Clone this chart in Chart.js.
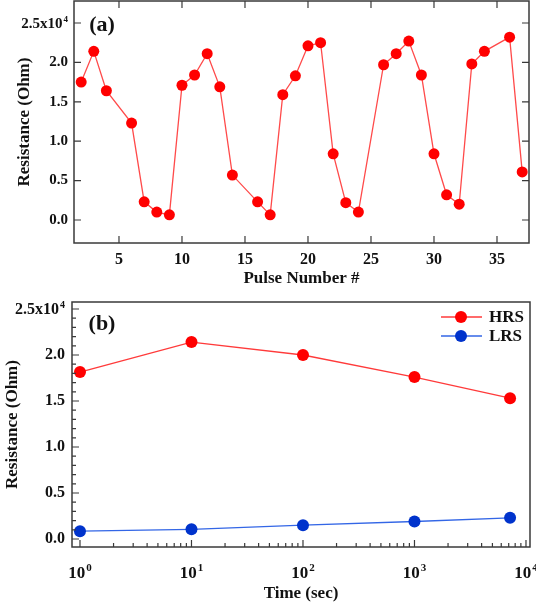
<!DOCTYPE html>
<html>
<head>
<meta charset="utf-8">
<script src="https://cdn.jsdelivr.net/npm/chart.js@4.4.1/dist/chart.umd.min.js"></script>
<style>
  body { margin: 0; background: #fff; }
  #wrap { position: relative; width: 536px; height: 609px; }
  canvas { position: absolute; left: 0; }
  #chartA { top: 0; }
  #chartB { top: 292px; }
</style>
</head>
<body>
<div id="wrap">
  <canvas id="chartA" width="536" height="292"></canvas>
  <canvas id="chartB" width="536" height="317"></canvas>
</div>
<script>
// panel (a): resistance vs pulse number
const pulseNo  = [2, 3, 4, 6, 7, 8, 9, 10, 11, 12, 13, 14, 16, 17, 18, 19, 20, 21, 22, 23, 24, 26, 27, 28, 29, 30, 31, 32, 33, 34, 36, 37];
const pulseRes = [17500, 21400, 16400, 12300, 2300, 1000, 650, 17100, 18400, 21100, 16900, 5700, 2300, 650, 15900, 18300, 22100, 22500, 8400, 2200, 1000, 19700, 21100, 22700, 18400, 8400, 3200, 2000, 19800, 21400, 23200, 6100];

// panel (b): retention
const timeSec = [1, 10, 100, 1000, 7200];
const hrsRes  = [18150, 21400, 20000, 17600, 15300];
const lrsRes  = [850, 1050, 1500, 1900, 2300];

// ticks: [base, superscript]
const resTicks      = [0, 5000, 10000, 15000, 20000, 25000];
const resTickLabels = [['0.0', ''], ['0.5', ''], ['1.0', ''], ['1.5', ''], ['2.0', ''], ['2.5x10', '4']];
const pulseTicks    = [5, 10, 15, 20, 25, 30, 35];
const timeTicks     = [1, 10, 100, 1000, 10000];
const timeTickLabels = [['10', '0'], ['10', '1'], ['10', '2'], ['10', '3'], ['10', '4']];

const FONT = 'Liberation Serif';
const INK = '#111';

// plain labels go through Chart.js, labels with a superscript are drawn by the plugin
function resLabel(v) {
    const l = resTickLabels[resTicks.indexOf(v)];
    return l && !l[1] ? l[0] : '';
}

function drawSup(ctx, base, sup, x, y, size, align) {
    ctx.font = 'bold ' + size + 'px "' + FONT + '"';
    const w1 = ctx.measureText(base).width;
    ctx.font = 'bold ' + Math.round(size * 0.62) + 'px "' + FONT + '"';
    const w2 = ctx.measureText(sup).width + 1;
    let x0 = align === 'right' ? x - w1 - w2 : x - (w1 + w2) / 2;
    ctx.textAlign = 'left';
    ctx.textBaseline = 'alphabetic';
    ctx.font = 'bold ' + size + 'px "' + FONT + '"';
    ctx.fillText(base, x0, y);
    ctx.font = 'bold ' + Math.round(size * 0.62) + 'px "' + FONT + '"';
    ctx.fillText(sup, x0 + w1 + 1, y - size * 0.42);
}

// frame + inward ticks + panel label + legend
const framePlugin = {
    id: 'frame',
    afterDatasetsDraw(chart, args, o) {
        const {ctx, chartArea: a, scales: {x, y}} = chart;
        ctx.save();
        ctx.strokeStyle = '#3a3a3a';
        ctx.lineWidth = 1.5;
        ctx.strokeRect(a.left, a.top, a.right - a.left, a.bottom - a.top);
        ctx.lineWidth = 1.2;
        ctx.beginPath();
        const tickX = (vals, len, mirror) => vals.forEach(v => {
            const px = x.getPixelForValue(v);
            if (px < a.left + 1 || px > a.right - 1) return;
            ctx.moveTo(px, a.bottom); ctx.lineTo(px, a.bottom - len);
            if (mirror) { ctx.moveTo(px, a.top); ctx.lineTo(px, a.top + len); }
        });
        const tickY = (vals, len, mirror) => vals.forEach(v => {
            const py = y.getPixelForValue(v);
            if (py < a.top + 1 || py > a.bottom - 1) return;
            ctx.moveTo(a.left, py); ctx.lineTo(a.left + len, py);
            if (mirror) { ctx.moveTo(a.right, py); ctx.lineTo(a.right - len, py); }
        });
        tickX(x.ticks.map(t => t.value), 7, o.mirror);
        tickY(y.ticks.map(t => t.value), 7, o.mirror);
        tickX(o.xMinor || [], 4, false);
        tickY(o.yMinor || [], 4, false);
        ctx.stroke();

        ctx.fillStyle = INK;
        // superscripted tick labels
        resTicks.forEach((v, i) => {
            const l = resTickLabels[i];
            if (!l[1]) return;
            drawSup(ctx, l[0], l[1], a.left - o.yPad, y.getPixelForValue(v) + o.ySize * 0.34, o.ySize, 'right');
        });
        if (o.timeLabels) {
            timeTicks.forEach((v, i) => {
                const l = timeTickLabels[i];
                drawSup(ctx, l[0], l[1], x.getPixelForValue(v), a.bottom + 31, 17, 'center');
            });
        }

        ctx.font = 'bold 22px "' + FONT + '"';
        ctx.textAlign = 'center';
        ctx.textBaseline = 'middle';
        ctx.fillText(o.label, o.labelX, o.labelY);

        if (o.legend) {
            ctx.font = 'bold 17px "' + FONT + '"';
            ctx.textAlign = 'left';
            chart.data.datasets.forEach((ds, i) => {
                const ly = o.legendY + i * 19;
                ctx.strokeStyle = ds.borderColor;
                ctx.lineWidth = 1.5;
                ctx.beginPath();
                ctx.moveTo(o.legendX, ly); ctx.lineTo(o.legendX + 41, ly);
                ctx.stroke();
                ctx.fillStyle = ds.pointBackgroundColor;
                ctx.beginPath();
                ctx.arc(o.legendX + 20, ly, 6, 0, Math.PI * 2);
                ctx.fill();
                ctx.fillStyle = INK;
                ctx.fillText(ds.label, o.legendX + 48, ly + 1);
            });
        }
        ctx.restore();
    }
};

const minorTime = [];
for (let d = 0; d < 4; d++) for (let k = 2; k < 10; k++) minorTime.push(k * Math.pow(10, d));
const minorRes = [];
for (let v = 1000; v < 26000; v += 1000) if (v % 5000) minorRes.push(v);

const noGrid = {display: false, drawTicks: false};
const noPadY = s => { s.paddingTop = 0; s.paddingBottom = 0; };

new Chart(document.getElementById('chartA'), {
    type: 'line',
    data: {
        datasets: [{
            label: 'Resistance',
            data: pulseNo.map((p, i) => ({x: p, y: pulseRes[i]})),
            borderColor: '#ff4a4a',
            borderWidth: 1.3,
            pointBackgroundColor: '#ff0000',
            pointBorderWidth: 0,
            pointRadius: 5.5,
            tension: 0
        }]
    },
    options: {
        responsive: false,
        animation: false,
        devicePixelRatio: 1,
        layout: {autoPadding: false, padding: {top: 1, right: 7, left: 0, bottom: 0}},
        plugins: {
            legend: {display: false},
            tooltip: {enabled: false},
            frame: {mirror: true, label: '(a)', labelX: 102, labelY: 25, yPad: 6, ySize: 15}
        },
        scales: {
            x: {
                type: 'linear', min: 1.43, max: 37.54,
                grid: noGrid, border: {display: false},
                afterBuildTicks: s => { s.ticks = pulseTicks.map(v => ({value: v})); },
                afterFit: s => { s.height = 49; s.paddingLeft = 0; s.paddingRight = 0; },
                ticks: {color: INK, padding: 7, maxRotation: 0, autoSkip: false,
                        font: {family: FONT, size: 16, weight: 'bold'}},
                title: {display: true, text: 'Pulse Number #', color: INK,
                        font: {family: FONT, size: 17, weight: 'bold'}, padding: {top: 0, bottom: 3}}
            },
            y: {
                min: -2920, max: 27790,
                grid: noGrid, border: {display: false},
                afterBuildTicks: s => { s.ticks = resTicks.map(v => ({value: v})); },
                afterFit: s => { s.width = 74; noPadY(s); },
                ticks: {color: INK, padding: 6, callback: resLabel,
                        font: {family: FONT, size: 15, weight: 'bold'}},
                title: {display: true, text: 'Resistance (Ohm)', color: INK,
                        font: {family: FONT, size: 17, weight: 'bold'}, padding: {top: 14, bottom: 0}}
            }
        }
    },
    plugins: [framePlugin]
});

new Chart(document.getElementById('chartB'), {
    type: 'line',
    data: {
        datasets: [{
            label: 'HRS',
            data: timeSec.map((t, i) => ({x: t, y: hrsRes[i]})),
            borderColor: '#ff3a3a',
            borderWidth: 1.3,
            pointBackgroundColor: '#ff0000',
            pointBorderWidth: 0,
            pointRadius: 6,
            tension: 0
        }, {
            label: 'LRS',
            data: timeSec.map((t, i) => ({x: t, y: lrsRes[i]})),
            borderColor: '#3366e6',
            borderWidth: 1.3,
            pointBackgroundColor: '#0033cc',
            pointBorderWidth: 0,
            pointRadius: 6,
            tension: 0
        }]
    },
    options: {
        responsive: false,
        animation: false,
        devicePixelRatio: 1,
        layout: {autoPadding: false, padding: {top: 10, right: 6, left: 0, bottom: 0}},
        plugins: {
            legend: {display: false},
            tooltip: {enabled: false},
            frame: {mirror: false, label: '(b)', labelX: 102, labelY: 32,
                    xMinor: minorTime, yMinor: minorRes, yPad: 7, ySize: 16,
                    timeLabels: true, legend: true, legendX: 441, legendY: 25}
        },
        scales: {
            x: {
                type: 'logarithmic', min: 0.848, max: 10865,
                grid: noGrid, border: {display: false},
                afterBuildTicks: s => { s.ticks = timeTicks.map(v => ({value: v})); },
                afterFit: s => { s.height = 62; s.paddingLeft = 0; s.paddingRight = 0; },
                ticks: {display: false},
                title: {display: true, text: 'Time (sec)', color: INK,
                        font: {family: FONT, size: 17, weight: 'bold'}, padding: {top: 0, bottom: 5}}
            },
            y: {
                min: -870, max: 25760,
                grid: noGrid, border: {display: false},
                afterBuildTicks: s => { s.ticks = resTicks.map(v => ({value: v})); },
                afterFit: s => { s.width = 72; noPadY(s); },
                ticks: {color: INK, padding: 7, callback: resLabel,
                        font: {family: FONT, size: 16, weight: 'bold'}},
                title: {display: true, text: 'Resistance (Ohm)', color: INK,
                        font: {family: FONT, size: 17, weight: 'bold'}, padding: {top: 2, bottom: 0}}
            }
        }
    },
    plugins: [framePlugin]
});
</script>
</body>
</html>
